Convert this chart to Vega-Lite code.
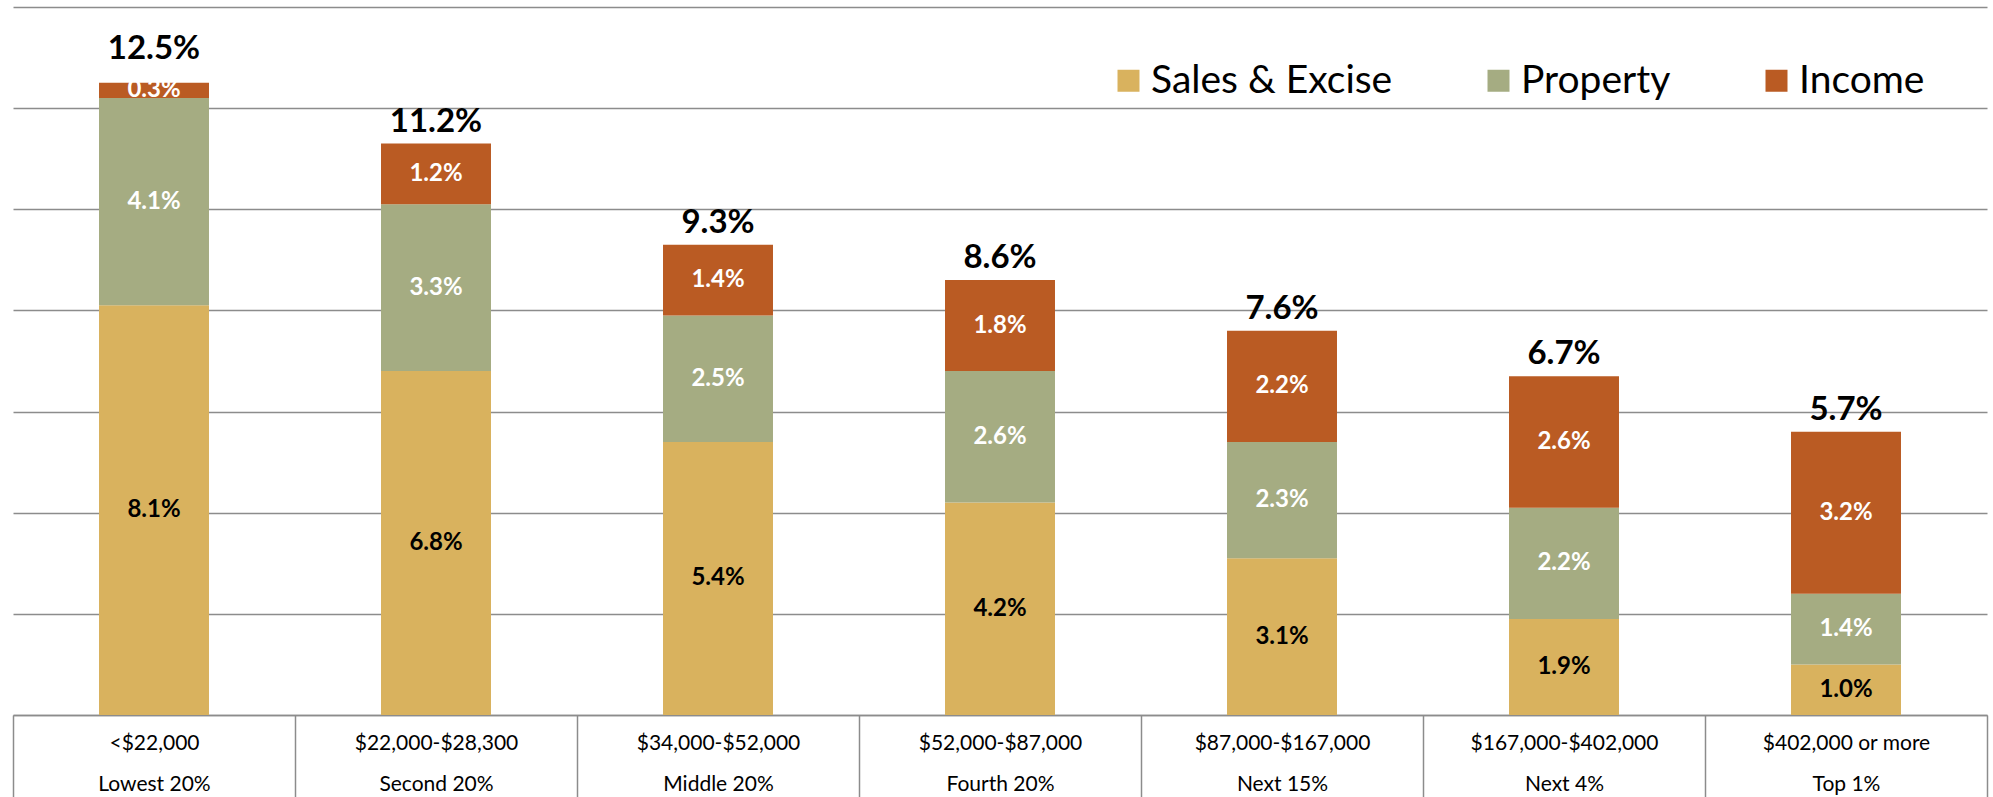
{
  "$schema": "https://vega.github.io/schema/vega-lite/v6.json",
  "width": 1974,
  "height": 708,
  "autosize": {"type": "none"},
  "padding": {"left": 13, "top": 7, "right": 6, "bottom": 82},
  "background": "white",
  "config": {
    "view": {"stroke": null},
    "font": "Lato"
  },
  "datasets": {
    "totals": [
      {"group": "<$22,000|Lowest 20%", "total": 0.125},
      {"group": "$22,000-$28,300|Second 20%", "total": 0.112},
      {"group": "$34,000-$52,000|Middle 20%", "total": 0.093},
      {"group": "$52,000-$87,000|Fourth 20%", "total": 0.086},
      {"group": "$87,000-$167,000|Next 15%", "total": 0.076},
      {"group": "$167,000-$402,000|Next 4%", "total": 0.067},
      {"group": "$402,000 or more|Top 1%", "total": 0.057}
    ]
  },
  "data": {
    "values": [
      {"group": "<$22,000|Lowest 20%", "type": "Sales & Excise", "k": 1, "value": 0.081},
      {"group": "<$22,000|Lowest 20%", "type": "Property", "k": 2, "value": 0.041},
      {"group": "<$22,000|Lowest 20%", "type": "Income", "k": 3, "value": 0.003},
      {"group": "$22,000-$28,300|Second 20%", "type": "Sales & Excise", "k": 1, "value": 0.068},
      {"group": "$22,000-$28,300|Second 20%", "type": "Property", "k": 2, "value": 0.033},
      {"group": "$22,000-$28,300|Second 20%", "type": "Income", "k": 3, "value": 0.012},
      {"group": "$34,000-$52,000|Middle 20%", "type": "Sales & Excise", "k": 1, "value": 0.054},
      {"group": "$34,000-$52,000|Middle 20%", "type": "Property", "k": 2, "value": 0.025},
      {"group": "$34,000-$52,000|Middle 20%", "type": "Income", "k": 3, "value": 0.014},
      {"group": "$52,000-$87,000|Fourth 20%", "type": "Sales & Excise", "k": 1, "value": 0.042},
      {"group": "$52,000-$87,000|Fourth 20%", "type": "Property", "k": 2, "value": 0.026},
      {"group": "$52,000-$87,000|Fourth 20%", "type": "Income", "k": 3, "value": 0.018},
      {"group": "$87,000-$167,000|Next 15%", "type": "Sales & Excise", "k": 1, "value": 0.031},
      {"group": "$87,000-$167,000|Next 15%", "type": "Property", "k": 2, "value": 0.023},
      {"group": "$87,000-$167,000|Next 15%", "type": "Income", "k": 3, "value": 0.022},
      {"group": "$167,000-$402,000|Next 4%", "type": "Sales & Excise", "k": 1, "value": 0.019},
      {"group": "$167,000-$402,000|Next 4%", "type": "Property", "k": 2, "value": 0.022},
      {"group": "$167,000-$402,000|Next 4%", "type": "Income", "k": 3, "value": 0.026},
      {"group": "$402,000 or more|Top 1%", "type": "Sales & Excise", "k": 1, "value": 0.010},
      {"group": "$402,000 or more|Top 1%", "type": "Property", "k": 2, "value": 0.014},
      {"group": "$402,000 or more|Top 1%", "type": "Income", "k": 3, "value": 0.032}
    ]
  },
  "encoding": {
    "x": {
      "field": "group",
      "type": "nominal",
      "sort": null,
      "scale": {"paddingInner": 0, "paddingOuter": 0},
      "axis": {
        "title": null,
        "labelAngle": 0,
        "labelExpr": "split(datum.label, '|')",
        "labelFont": "Lato",
        "labelFontSize": 21,
        "labelColor": "#000000",
        "labelLineHeight": 41,
        "labelBaseline": "middle",
        "labelPadding": -54,
        "labelLimit": 0,
        "tickBand": "extent",
        "tickSize": 82,
        "tickColor": "#8c8c8c",
        "tickWidth": 1.5,
        "domainColor": "#8c8c8c",
        "domainWidth": 1.5
      }
    }
  },
  "layer": [
    {
      "mark": {"type": "bar", "width": {"band": 0.39}},
      "encoding": {
        "y": {
          "field": "value",
          "type": "quantitative",
          "stack": "zero",
          "scale": {"domain": [0, 0.14], "nice": false},
          "axis": {
            "title": null,
            "values": [0, 0.02, 0.04, 0.06, 0.08, 0.1, 0.12, 0.14],
            "labels": false,
            "ticks": false,
            "domain": false,
            "grid": true,
            "gridColor": "#8c8c8c",
            "gridWidth": 1.5
          }
        },
        "order": {"field": "k", "type": "quantitative"},
        "color": {
          "field": "type",
          "type": "nominal",
          "sort": ["Sales & Excise", "Property", "Income"],
          "scale": {
            "domain": ["Sales & Excise", "Property", "Income"],
            "range": ["#D9B25E", "#A5AC82", "#BA5B23"]
          },
          "legend": {
            "title": null,
            "orient": "none",
            "legendX": 1096,
            "legendY": 54,
            "direction": "horizontal",
            "columns": 3,
            "columnPadding": 86,
            "labelFont": "Lato",
            "labelFontSize": 39,
            "labelColor": "#000000",
            "labelOffset": 3,
            "labelLimit": 0,
            "symbolType": "square",
            "symbolSize": 484,
            "symbolStrokeWidth": 0,
            "symbolOpacity": 1
          }
        }
      }
    },
    {
      "mark": {"type": "text", "font": "Lato", "fontWeight": "bold", "fontSize": 24, "baseline": "middle"},
      "encoding": {
        "y": {"field": "value", "type": "quantitative", "stack": "zero", "bandPosition": 0.5},
        "detail": {"field": "type"},
        "order": {"field": "k", "type": "quantitative"},
        "text": {"field": "value", "type": "quantitative", "format": ".1%"},
        "color": {
          "condition": {"test": "datum.type === 'Sales & Excise'", "value": "#000000"},
          "value": "#ffffff"
        }
      }
    },
    {
      "transform": [
        {"aggregate": [{"op": "sum", "field": "value", "as": "top"}], "groupby": ["group"]},
        {"lookup": "group", "from": {"data": {"name": "totals"}, "key": "group", "fields": ["total"]}},
        {"filter": "datum.group !== '<$22,000|Lowest 20%'"}
      ],
      "mark": {"type": "text", "font": "Lato", "fontWeight": "bold", "fontSize": 33, "baseline": "bottom", "dy": -5, "color": "#000000"},
      "encoding": {
        "y": {"field": "top", "type": "quantitative"},
        "text": {"field": "total", "type": "quantitative", "format": ".1%"}
      }
    },
    {
      "transform": [
        {"aggregate": [{"op": "sum", "field": "value", "as": "top"}], "groupby": ["group"]},
        {"lookup": "group", "from": {"data": {"name": "totals"}, "key": "group", "fields": ["total"]}},
        {"filter": "datum.group === '<$22,000|Lowest 20%'"}
      ],
      "mark": {"type": "text", "font": "Lato", "fontWeight": "bold", "fontSize": 33, "baseline": "bottom", "dy": -17, "color": "#000000"},
      "encoding": {
        "y": {"field": "top", "type": "quantitative"},
        "text": {"field": "total", "type": "quantitative", "format": ".1%"}
      }
    }
  ]
}
